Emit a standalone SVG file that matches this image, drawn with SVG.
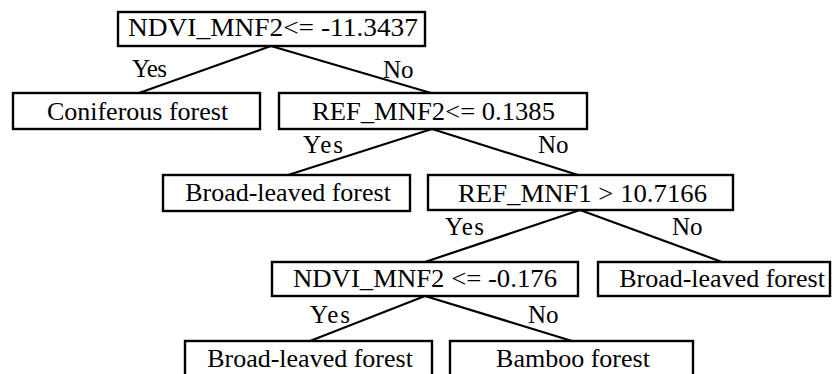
<svg xmlns="http://www.w3.org/2000/svg" width="833" height="374" viewBox="0 0 833 374">
<style>
  rect.box { fill: #ffffff; stroke: #000000; stroke-width: 2.4; }
  .conn line { stroke: #000000; stroke-width: 2.2; }
  text { font-family: "Liberation Serif", "Times New Roman", serif; fill: #000000; }
  text.node { font-size: 26px; text-anchor: middle; }
  text.lbl { font-size: 25px; }
</style>
<rect width="833" height="374" fill="#ffffff"/>
<g id="connectors" class="conn">
  <line x1="271" y1="46" x2="139" y2="93"/>
  <line x1="271" y1="46" x2="431" y2="93"/>
  <line x1="432" y1="129" x2="288" y2="175"/>
  <line x1="432" y1="129" x2="578" y2="175"/>
  <line x1="580" y1="210" x2="425" y2="262"/>
  <line x1="580" y1="210" x2="722" y2="262"/>
  <line x1="425" y1="296" x2="310" y2="341"/>
  <line x1="425" y1="296" x2="572" y2="341"/>
</g>
<g id="edge-labels">
  <text class="lbl" x="132" y="77" textLength="35" lengthAdjust="spacing">Yes</text>
  <text class="lbl" x="383" y="78">No</text>
  <text class="lbl" x="303" y="153" textLength="40" lengthAdjust="spacing">Yes</text>
  <text class="lbl" x="538" y="153">No</text>
  <text class="lbl" x="445" y="235" textLength="39" lengthAdjust="spacing">Yes</text>
  <text class="lbl" x="672" y="235">No</text>
  <text class="lbl" x="310" y="323" textLength="40" lengthAdjust="spacing">Yes</text>
  <text class="lbl" x="528" y="323">No</text>
</g>
<g id="n1">
  <rect class="box" x="118" y="12" width="307" height="34"/>
  <text class="node" x="273" y="36" textLength="290" lengthAdjust="spacingAndGlyphs">NDVI_MNF2&lt;= -11.3437</text>
</g>
<g id="n2">
  <rect class="box" x="13" y="93" width="247" height="36"/>
  <text class="node" x="137.5" y="120">Coniferous forest</text>
</g>
<g id="n3">
  <rect class="box" x="279" y="93" width="308" height="36"/>
  <text class="node" x="433.5" y="120" textLength="243" lengthAdjust="spacingAndGlyphs">REF_MNF2&lt;= 0.1385</text>
</g>
<g id="n4">
  <rect class="box" x="163" y="175" width="247" height="36"/>
  <text class="node" x="288" y="201">Broad-leaved forest</text>
</g>
<g id="n5">
  <rect class="box" x="428" y="175" width="305" height="35"/>
  <text class="node" x="582.5" y="202" textLength="249" lengthAdjust="spacingAndGlyphs">REF_MNF1 &gt; 10.7166</text>
</g>
<g id="n6">
  <rect class="box" x="272" y="262" width="306" height="34"/>
  <text class="node" x="425" y="287" textLength="264" lengthAdjust="spacingAndGlyphs">NDVI_MNF2 &lt;= -0.176</text>
</g>
<g id="n7">
  <rect class="box" x="598" y="262" width="232" height="34"/>
  <text class="node" x="722" y="287">Broad-leaved forest</text>
</g>
<g id="n8">
  <rect class="box" x="185" y="341" width="247" height="36"/>
  <text class="node" x="310" y="367">Broad-leaved forest</text>
</g>
<g id="n9">
  <rect class="box" x="450" y="341" width="243" height="36"/>
  <text class="node" x="573" y="367">Bamboo forest</text>
</g>
</svg>
